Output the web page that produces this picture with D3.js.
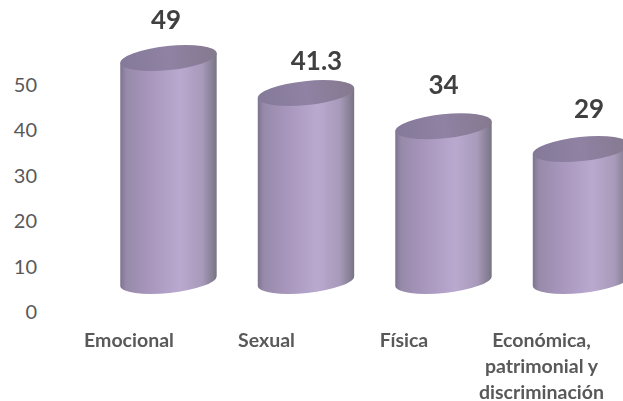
<!DOCTYPE html>
<html><head><meta charset="utf-8">
<script src="https://cdn.jsdelivr.net/npm/d3@7"></script>
<style>html,body{margin:0;padding:0;background:#fff}svg{display:block}</style>
</head><body><div id="c"></div>
<script>
const categories=["Emocional","Sexual","Física","Económica, patrimonial y discriminación"];
const categoryLines=[["Emocional"],["Sexual"],["Física"],["Económica,","patrimonial y","discriminación"]];
const values=[49,41.3,34,29];
const valueLabels=["49","41.3","34","29"];
const yTicks=[0,10,20,30,40,50];
const W=623,H=401;
const labelDx=[-2.5,10.5,0,8], labelDy=[-39,-33,-42,-41], catX=[129,266.5,404,541.5];
const svg=d3.select("#c").append("svg").attr("width",W).attr("height",H).attr("viewBox",`0 0 ${W} ${H}`);
const font="Lato, 'Open Sans', sans-serif";
const x=d3.scaleBand().domain(categories).range([106.25,643.2]).paddingInner(0.295).paddingOuter(0.1);
const y=d3.scaleLinear().domain([0,50]).range([281,53.5]);
const depth=31.5;
const defs=svg.append("defs");
const g=defs.append("linearGradient").attr("id","side");
[[0,"#7d7390"],[.06,"#978aa9"],[.3,"#a896bd"],[.62,"#b9a9cf"],[.85,"#a89aba"],[.97,"#827c90"],[1,"#77727f"]]
 .forEach(s=>g.append("stop").attr("offset",s[0]).attr("stop-color",s[1]));
const t=defs.append("linearGradient").attr("id","top");
[[0,"#85799a"],[.5,"#8f82a3"],[1,"#85798f"]].forEach(s=>t.append("stop").attr("offset",s[0]).attr("stop-color",s[1]));
defs.append("filter").attr("id","soft").append("feGaussianBlur").attr("stdDeviation",0.7);
const axis=d3.axisLeft(y).tickValues(yTicks).tickSize(0).tickPadding(0).tickFormat(d3.format("d"));
const ga=svg.append("g").attr("transform",`translate(37,${depth})`).call(axis);
ga.select(".domain").remove();
ga.selectAll("text").attr("font-family",font).attr("font-size",20).attr("fill","#595959").attr("x",0);
const rx=()=>x.bandwidth()/2, ry=12, rot=-6;
const bars=svg.append("g").attr("filter","url(#soft)").selectAll("g").data(categories).join("g");
const dxe=()=>rx()*Math.cos(rot*Math.PI/180), dye=()=>rx()*Math.sin(rot*Math.PI/180);
bars.append("path").attr("fill","url(#side)").attr("d",(c,i)=>{
 const cx=x(c)+rx(),top=y(values[i]),base=y(0);
 return `M${cx-dxe()},${top-dye()}L${cx-dxe()},${base-dye()}A${rx()},${ry} ${rot} 0 0 ${cx+dxe()},${base+dye()}L${cx+dxe()},${top+dye()}Z`;
});
bars.append("ellipse").attr("fill","url(#top)").attr("rx",()=>rx()).attr("ry",ry)
 .attr("transform",(c,i)=>`translate(${x(c)+rx()},${y(values[i])}) rotate(${rot})`);
svg.append("g").selectAll("text").data(valueLabels).join("text")
 .attr("x",(d,i)=>x(categories[i])+rx()+labelDx[i]).attr("y",(d,i)=>y(values[i])+labelDy[i])
 .attr("text-anchor","middle").attr("dominant-baseline","central")
 .attr("font-family",font).attr("font-weight",700).attr("font-size",26).attr("fill","#404040").text(d=>d);
const cat=svg.append("g").selectAll("text").data(categoryLines).join("text")
 .attr("font-family",font).attr("font-weight",700).attr("font-size",19.5).attr("fill","#595959").attr("text-anchor","middle");
cat.selectAll("tspan").data((d,i)=>d.map(l=>({l,i}))).join("tspan")
 .attr("x",d=>catX[d.i]).attr("y",(d,j)=>346.5+j*26).text(d=>d.l);
</script></body></html>
